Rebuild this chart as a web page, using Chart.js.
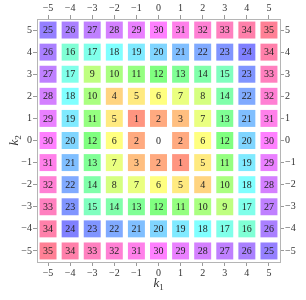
<!DOCTYPE html>
<html>
<head>
<meta charset="utf-8">
<script src="https://cdn.jsdelivr.net/npm/chart.js@4"></script>
<style>
  html, body { margin: 0; padding: 0; background: #fff; }
  #wrap { width: 306px; height: 300px; }
</style>
</head>
<body>
<div id="wrap"><canvas id="grid"></canvas></div>
<script>
// k1 runs left to right, k2 runs top to bottom
const k1Values = [-5, -4, -3, -2, -1, 0, 1, 2, 3, 4, 5];
const k2Values = [5, 4, 3, 2, 1, 0, -1, -2, -3, -4, -5];
const tickValues = [-5, -4, -3, -2, -1, 0, 1, 2, 3, 4, 5];

// one row per k2 value (top row first)
const row5  = [25, 26, 27, 28, 29, 30, 31, 32, 33, 34, 35];
const row4  = [26, 16, 17, 18, 19, 20, 21, 22, 23, 24, 34];
const row3  = [27, 17, 9, 10, 11, 12, 13, 14, 15, 23, 33];
const row2  = [28, 18, 10, 4, 5, 6, 7, 8, 14, 22, 32];
const row1  = [29, 19, 11, 5, 1, 2, 3, 7, 13, 21, 31];
const row0  = [30, 20, 12, 6, 2, 0, 2, 6, 12, 20, 30];
const rowM1 = [31, 21, 13, 7, 3, 2, 1, 5, 11, 19, 29];
const rowM2 = [32, 22, 14, 8, 7, 6, 5, 4, 10, 18, 28];
const rowM3 = [33, 23, 15, 14, 13, 12, 11, 10, 9, 17, 27];
const rowM4 = [34, 24, 23, 22, 21, 20, 19, 18, 17, 16, 26];
const rowM5 = [35, 34, 33, 32, 31, 30, 29, 28, 27, 26, 25];
const rows = [row5, row4, row3, row2, row1, row0, rowM1, rowM2, rowM3, rowM4, rowM5];

const serif = "'Liberation Serif', 'DejaVu Serif', serif";

// build the points for the scatter
const points = [];
rows.forEach((row, i) => {
    row.forEach((v, j) => {
        points.push({ x: k1Values[j], y: k2Values[i], v: v });
    });
});

function cellColor(v) {
    if (v === 0) return 'rgba(0,0,0,0)';
    return 'hsl(' + (v * 10) % 360 + ', 100%, 75%)';
}

function fmt(v) {
    return v < 0 ? '\u2212' + Math.abs(v) : String(v);
}

// numbers inside the cells + axis titles
const labelPlugin = {
    id: 'cellLabels',
    afterDatasetsDraw(chart) {
        const ctx = chart.ctx;
        const xs = chart.scales.x;
        const ys = chart.scales.y;
        ctx.save();
        ctx.font = '10px ' + serif;
        ctx.fillStyle = '#222';
        ctx.textAlign = 'center';
        ctx.textBaseline = 'middle';
        points.forEach(p => {
            ctx.fillText(String(p.v), xs.getPixelForValue(p.x), ys.getPixelForValue(p.y) + 0.5);
        });
        ctx.restore();
    },
    afterDraw(chart) {
        const ctx = chart.ctx;
        const area = chart.chartArea;
        ctx.save();
        ctx.fillStyle = '#333';
        ctx.textBaseline = 'alphabetic';
        ctx.textAlign = 'left';

        // k1 at bottom
        const cx = (area.left + area.right) / 2;
        ctx.font = 'italic 13px ' + serif;
        const kw = ctx.measureText('k').width;
        ctx.fillText('k', cx - 5, 287);
        ctx.font = '9px ' + serif;
        ctx.fillText('1', cx - 5 + kw, 290);

        // k2 on the left, rotated
        const cy = (area.top + area.bottom) / 2;
        ctx.translate(18, cy + 5);
        ctx.rotate(-Math.PI / 2);
        ctx.font = 'italic 13px ' + serif;
        ctx.fillText('k', 0, 0);
        ctx.font = '9px ' + serif;
        ctx.fillText('2', kw, 3);
        ctx.restore();
    }
};

function axis(position, size) {
    const horizontal = position === 'top' || position === 'bottom';
    return {
        type: 'linear',
        position: position,
        min: -5.5,
        max: 5.5,
        afterBuildTicks: scale => {
            scale.ticks = tickValues.map(v => ({ value: v }));
        },
        afterFit: scale => {
            if (horizontal) scale.height = size;
            else scale.width = size;
        },
        grid: {
            drawOnChartArea: false,
            drawTicks: true,
            tickLength: 4,
            color: '#999'
        },
        border: { display: true, color: '#b5b5b5', width: 1 },
        ticks: {
            padding: 1,
            color: '#333',
            font: { family: serif, size: 10 },
            maxRotation: 0,
            autoSkip: false,
            callback: v => fmt(v)
        }
    };
}

new Chart(document.getElementById('grid'), {
    type: 'scatter',
    data: {
        datasets: [{
            data: points,
            pointStyle: 'rect',
            pointRadius: 12,
            pointHoverRadius: 12,
            borderWidth: 0,
            backgroundColor: ctx => cellColor(ctx.raw ? ctx.raw.v : 1)
        }]
    },
    options: {
        responsive: true,
        maintainAspectRatio: false,
        animation: false,
        events: [],
        layout: { padding: 0 },
        plugins: {
            legend: { display: false },
            tooltip: { enabled: false }
        },
        scales: {
            x: axis('bottom', 38),
            x2: axis('top', 19),
            y: axis('left', 37),
            y2: axis('right', 26)
        }
    },
    plugins: [labelPlugin]
});
</script>
</body>
</html>
